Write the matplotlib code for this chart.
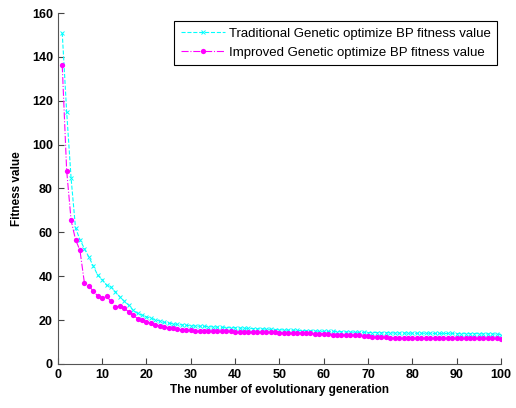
import numpy as np
import matplotlib.pyplot as plt

plt.rcParams['font.family'] = ['Liberation Sans', 'DejaVu Sans']

generations = np.arange(1, 101)

# traditional GA-BP fitness (cyan, x markers)
traditional = [
    151, 115, 84.7, 62, 56.7, 52.6, 48.8, 44.7, 40.5, 38.5,
    35.9, 35.1, 32.9, 30.6, 28.6, 26.8, 24.5, 23.0, 22.3, 21.5,
    20.8, 20.2, 19.5, 19.0, 18.6, 18.3, 18.0, 17.8, 17.6, 17.4,
    17.3, 17.2, 17.1, 17.0, 16.9, 16.8, 16.7, 16.6, 16.5, 16.5,
    16.4, 16.3, 16.2, 16.1, 16.0, 16.0, 15.9, 15.8, 15.7, 15.6,
    15.5, 15.4, 15.4, 15.3, 15.2, 15.2, 15.1, 15.0, 14.9, 14.9,
    14.8, 14.8, 14.7, 14.7, 14.6, 14.5, 14.5, 14.4, 14.4, 14.3,
    14.3, 14.3, 14.2, 14.2, 14.2, 14.1, 14.1, 14.1, 14.1, 14.0,
    14.0, 14.0, 14.0, 14.0, 13.9, 13.9, 13.9, 13.9, 13.9, 13.8,
    13.8, 13.8, 13.8, 13.8, 13.8, 13.7, 13.7, 13.7, 13.6, 13.4,
]

# improved GA-BP fitness (magenta, dot markers)
improved = [
    136.2, 88.2, 65.5, 56.7, 51.8, 37.0, 35.6, 33.2, 31.0, 30.2,
    30.8, 28.6, 25.9, 26.4, 25.3, 23.8, 22.2, 20.7, 20.2, 19.2,
    18.5, 17.8, 17.4, 17.0, 16.5, 16.2, 15.9, 15.6, 15.5, 15.3,
    15.1, 15.0, 15.0, 14.9, 14.9, 14.9, 14.8, 14.8, 14.8, 14.6,
    14.5, 14.5, 14.5, 14.5, 14.4, 14.4, 14.4, 14.4, 14.4, 14.3,
    14.3, 14.1, 14.1, 14.0, 14.0, 13.9, 13.9, 13.8, 13.8, 13.7,
    13.6, 13.4, 13.3, 13.2, 13.1, 13.1, 13.0, 13.0, 12.9, 12.7,
    12.5, 12.4, 12.3, 12.1, 11.9, 11.6, 11.6, 11.6, 11.6, 11.6,
    11.6, 11.6, 11.6, 11.6, 11.6, 11.6, 11.6, 11.6, 11.6, 11.6,
    11.6, 11.6, 11.6, 11.6, 11.6, 11.6, 11.6, 11.6, 11.6, 11.5,
]

fig = plt.figure(figsize=(5.16, 4.08), dpi=100)
ax = fig.add_axes([0.112, 0.108, 0.859, 0.86])

ax.plot(generations, traditional, color='cyan', linestyle='--', linewidth=0.8,
        marker='x', markersize=3.5, markeredgewidth=0.7,
        label='Traditional Genetic optimize BP fitness value')
ax.plot(generations, improved, color='magenta', linestyle='-.', linewidth=0.8,
        marker='o', markersize=3.8, markeredgewidth=0,
        label='Improved Genetic optimize BP fitness value')

ax.set_xlim(0, 100)
ax.set_ylim(0, 160)
ax.set_xticks(np.arange(0, 101, 10))
ax.set_yticks(np.arange(0, 161, 20))
ax.tick_params(direction='in', length=4, width=0.8, labelsize=9, colors='#444444',
               labelcolor='black')
for lbl in ax.get_xticklabels() + ax.get_yticklabels():
    lbl.set_fontweight('bold')

ax.spines['top'].set_visible(False)
ax.spines['right'].set_visible(False)
for s in ['left', 'bottom']:
    ax.spines[s].set_color('#555555')
    ax.spines[s].set_linewidth(0.8)

ax.set_xlabel('The number of evolutionary generation', fontsize=8.5, fontweight='bold', labelpad=2)
ax.set_ylabel('Fitness value', fontsize=8.5, fontweight='bold', labelpad=6)

leg = ax.legend(loc='upper right', bbox_to_anchor=(0.991, 0.977), fontsize=9.5,
                fancybox=False, framealpha=1, edgecolor='black',
                handlelength=3.3, handletextpad=0.3, borderpad=0.5,
                labelspacing=0.5, borderaxespad=0)
leg.get_frame().set_linewidth(0.8)

fig.savefig('out.png', dpi=100)
